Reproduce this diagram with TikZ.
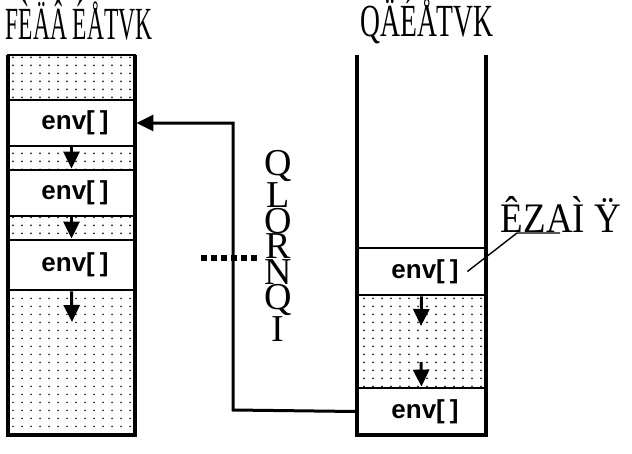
\documentclass[tikz,border=0pt]{standalone}
\usepackage{fontspec}
\newfontfamily\envfont{Liberation Sans}
\newfontfamily\garbfont{Liberation Serif}
\usetikzlibrary{arrows.meta,patterns.meta}
\tikzdeclarepattern{name=sparsedots,type=uncolored,bounding box={(0,0) and (9pt,8pt)},tile size={(9pt,8pt)},code={\fill (4.5pt,4pt) circle (1.1pt);}}
\begin{document}
\begin{tikzpicture}[x=1pt,y=-1pt,
  colwall/.style={line width=4.6pt},
  envbox/.style={draw,line width=2.8pt,fill=white,minimum width=#1,inner sep=0pt,font=\envfont\bfseries\fontsize{26}{30}\selectfont},
  dotfill/.style={pattern={sparsedots},pattern color=black!85,draw,line width=2.8pt},
  flow/.style={line width=3pt,-{Triangle[length=17pt,width=16pt]}},
  bigtxt/.style={font=\garbfont\fontsize{46}{50}\selectfont,inner sep=0pt}]
\useasboundingbox (0,0) rectangle (632,453);
% left column fills
\path[dotfill] (8,55) rectangle (135,100);
\path[dotfill] (8,146) rectangle (135,170);
\path[dotfill] (8,216) rectangle (135,240);
\path[dotfill] (8,290) rectangle (135,435);
% right column fills
\path[dotfill] (357,295) rectangle (486,388);
% env boxes
\node[envbox=127pt,minimum height=46pt] (L1) at (71.5,123) {\hspace{7pt}env[\hspace{5pt}]};
\node[envbox=127pt,minimum height=46pt] (L2) at (71.5,193) {\hspace{7pt}env[\hspace{5pt}]};
\node[envbox=127pt,minimum height=50pt] (L3) at (71.5,265) {\hspace{7pt}env[\hspace{5pt}]};
\node[envbox=129pt,minimum height=47pt] (R1) at (421.5,271.5) {\hspace{7pt}env[\hspace{5pt}]};
\node[envbox=129pt,minimum height=47pt] (R2) at (421.5,411.5) {\hspace{7pt}env[\hspace{5pt}]};
% column walls
\coordinate (LTL) at (8,55); \coordinate (LBL) at (8,435);
\coordinate (LTR) at (135,55); \coordinate (LBR) at (135,435);
\coordinate (RTL) at (357,55); \coordinate (RBL) at (357,435);
\coordinate (RTR) at (486,55); \coordinate (RBR) at (486,435);
\draw[colwall] (LTL) -- (LBL) -- (LBR) -- (LTR);
\draw[colwall] (RTL) -- (RBL) -- (RBR) -- (RTR);
% down arrows
\coordinate (a3) at (72,322);
\coordinate (r1e) at (421,326);
\coordinate (r2s) at (421,362);
\draw[flow] (L1.south) -- (L2.north);
\draw[flow] (L2.south) -- (L3.north);
\draw[flow] (L3.south) -- (a3);
\draw[flow] (R1.south) -- (r1e);
\draw[flow] (r2s) -- (R2.north);
% return connector
\coordinate (bend) at (233,410);
\draw[flow] (R2.west) -- (bend) |- (L1.east);
% dotted line
\coordinate (d1) at (201,258); \coordinate (d2) at (259,258);
\draw[line width=6pt,dash pattern=on 6pt off 4pt] (d1) -- (d2);
% titles
\node[bigtxt] (tl) at (79,20) {\scalebox{0.51}[1]{FÈÄÂ ÉÅTVK}};
\node[bigtxt] (tr) at (427,20) {\scalebox{0.6}[1]{QÄÉÅTVK}};
% vertical text
\node[bigtxt,align=center,font=\garbfont\fontsize{38}{25.5}\selectfont] (vt) at (278,246) {Q\\L\\O\\R\\N\\Q\\I};
% label
\node[bigtxt,font=\garbfont\fontsize{42}{46}\selectfont] (lab) at (561,214) {\scalebox{0.88}[1]{ÊZAÌ Ÿ}};
\coordinate (k1) at (517,233); \coordinate (k2) at (560,233);
\draw[line width=1.4pt] ([xshift=-20pt]R1.east) -- (k1) -- (k2);
\end{tikzpicture}
\end{document}
